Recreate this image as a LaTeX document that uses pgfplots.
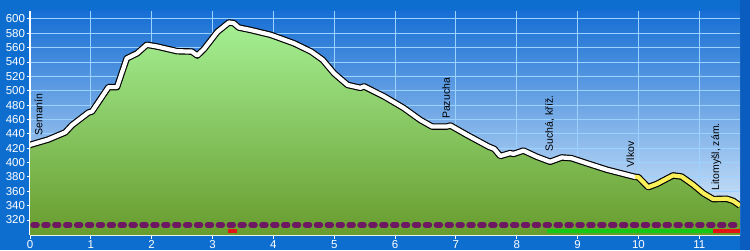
\documentclass[border=0pt]{standalone}
\usepackage{pgfplots}
\pgfplotsset{compat=1.18}
\usepackage{pgfplotstable}
\usepackage{fontspec}
\setmainfont{Liberation Sans}
\definecolor{outerbg}{RGB}{14,110,208}
\definecolor{strip}{RGB}{10,92,190}
\definecolor{skytop}{RGB}{22,110,212}
\definecolor{skymid}{RGB}{95,160,226}
\definecolor{skybot}{RGB}{228,242,253}
\definecolor{greentop}{RGB}{165,240,148}
\definecolor{greenbot}{RGB}{104,156,46}
\definecolor{gridc}{RGB}{155,210,255}
\definecolor{purp}{RGB}{110,24,100}
\definecolor{redbar}{RGB}{228,20,20}
\definecolor{greenbar}{RGB}{20,200,20}
\definecolor{yel}{RGB}{250,240,90}

\pgfplotstableread{
x y
0 424.5
0.3 432
0.58 442
0.69 452
0.96 469.5
1.02 471
1.29 505
1.43 505
1.59 545
1.76 552
1.92 564
2.09 561.5
2.42 555
2.66 554.5
2.75 549
2.86 558
3.08 582
3.27 595
3.35 594
3.43 588
3.63 584.5
3.96 577.7
4.34 566
4.62 554.5
4.81 543
5.0 524
5.22 508
5.43 504
5.49 506
5.82 492
6.14 476
6.42 459
6.61 450
6.85 450
6.91 451.5
7.18 438.5
7.54 422
7.63 419
7.73 409
7.89 413
7.95 412
8.11 416.6
8.33 408
8.55 401
8.74 407
8.90 406
9.15 399
9.48 390
9.94 380
}\whitepart

\pgfplotstableread{
x y
9.94 380
10.0 379.5
10.16 365.6
10.30 370
10.57 382
10.71 380.4
10.90 369
11.07 357
11.23 349
11.45 349.5
11.56 346.5
11.67 340
}\yellowpart

\pgfplotstableread{
x y
0 299
0 424.5
0.3 432
0.58 442
0.69 452
0.96 469.5
1.02 471
1.29 505
1.43 505
1.59 545
1.76 552
1.92 564
2.09 561.5
2.42 555
2.66 554.5
2.75 549
2.86 558
3.08 582
3.27 595
3.35 594
3.43 588
3.63 584.5
3.96 577.7
4.34 566
4.62 554.5
4.81 543
5.0 524
5.22 508
5.43 504
5.49 506
5.82 492
6.14 476
6.42 459
6.61 450
6.85 450
6.91 451.5
7.18 438.5
7.54 422
7.63 419
7.73 409
7.89 413
7.95 412
8.11 416.6
8.33 408
8.55 401
8.74 407
8.90 406
9.15 399
9.48 390
9.94 380
10.0 379.5
10.16 365.6
10.30 370
10.57 382
10.71 380.4
10.90 369
11.07 357
11.23 349
11.45 349.5
11.56 346.5
11.67 340
11.67 299
}\fillpart

\begin{document}
\begin{tikzpicture}
\useasboundingbox (-30pt,-15pt) rectangle (720pt,235pt);
\fill[outerbg] (-30pt,-15pt) rectangle (720pt,235pt);
\fill[strip] (710pt,-15pt) rectangle (720pt,235pt);
\begin{axis}[
  scale only axis, width=710pt, height=224pt,
  xmin=0, xmax=11.67, ymin=299, ymax=611,
  axis background/.style={shade, top color=skytop, middle color=skymid, bottom color=skybot},
  axis lines*=left,
  axis line style={white, line width=1pt},
  xtick={0,1,...,11}, ytick={320,340,...,600},
  grid=major, grid style={gridc, line width=0.9pt},
  tick style={white, line width=0.8pt},
  tick align=outside, major tick length=3.5pt,
  tick label style={white, font=\fontsize{11.5}{13}\selectfont},
  /pgf/number format/assume math mode=true,
  xticklabel style={yshift=1.5pt},
  yticklabel style={xshift=2pt},
  clip=true,
]
\addplot[draw=none, shade, top color=greentop, bottom color=greenbot] table {\fillpart};
\addplot[black, line width=6.5pt, line join=round] table {\whitepart};
\addplot[black, line width=6.5pt, line join=round] table {\yellowpart};
\addplot[white, line width=4.2pt, line join=round, line cap=round] table {\whitepart};
\addplot[yel, line width=4.2pt, line join=round] table {\yellowpart};
\addplot[purp, line width=5.5pt, line cap=round, dash pattern=on 4pt off 6.9pt] coordinates {(0.05,313) (11.67,313)};
\addplot[redbar, line width=4.5pt] coordinates {(3.25,304.5) (3.41,304.5)};
\addplot[greenbar, line width=4.5pt] coordinates {(8.50,304.5) (11.23,304.5)};
\addplot[redbar, line width=4.5pt] coordinates {(11.23,304.5) (11.67,304.5)};
\begin{scope}[every node/.style={rotate=90, anchor=west, font=\fontsize{10.5}{12}\selectfont, black, inner sep=1pt}]
\node at (axis cs:0.14,436) {Semanín};
\node at (axis cs:6.84,459) {Pazucha};
\node at (axis cs:8.54,414) {Suchá, kříž.};
\node at (axis cs:9.87,392) {Vlkov};
\node at (axis cs:11.28,359.5) {Litomyšl, zám.};
\end{scope}
\end{axis}
\end{tikzpicture}
\end{document}
